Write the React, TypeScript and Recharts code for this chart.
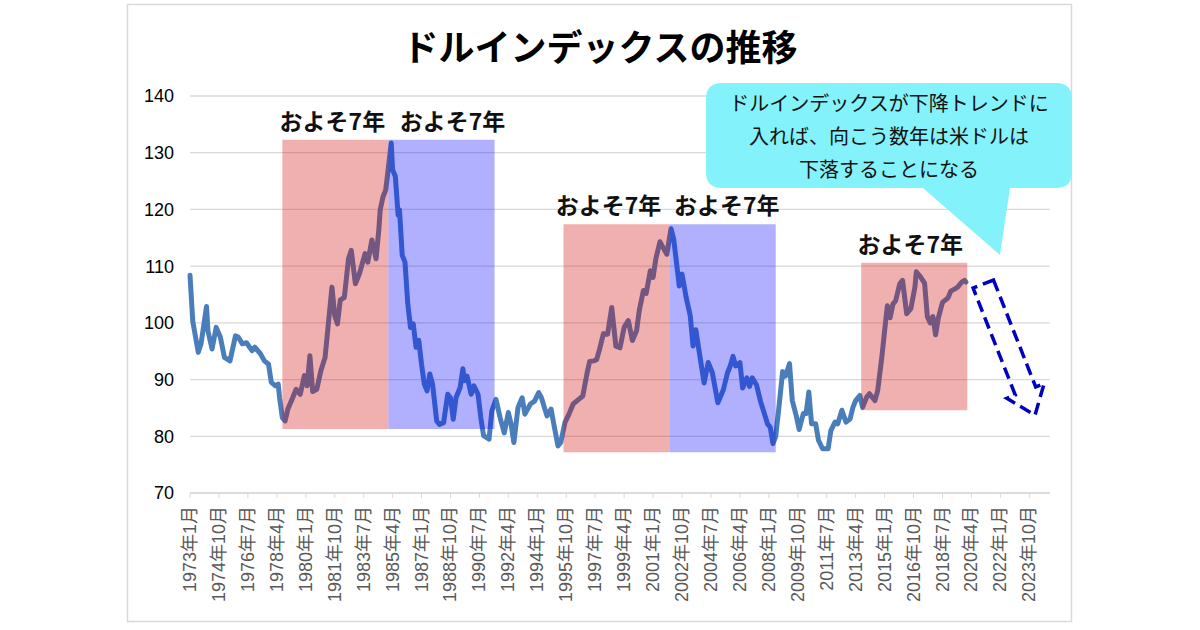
import { LineChart, Line, XAxis, YAxis, CartesianGrid, ReferenceArea } from 'recharts';

// monthly index (1973-2019)
const DATES = [
  '1973-01', '1973-03', '1973-07', '1973-09', '1974-01', '1974-02', '1974-05', '1974-08', '1974-11',
  '1975-02', '1975-06', '1975-10', '1975-12', '1976-03', '1976-06', '1976-10', '1976-12',
  '1977-04', '1977-07', '1977-10', '1977-12', '1978-03', '1978-05', '1978-06', '1978-08', '1978-10', '1978-12',
  '1979-03', '1979-06', '1979-09', '1979-12', '1980-02', '1980-04', '1980-06', '1980-09', '1980-12',
  '1981-03', '1981-08', '1981-10', '1981-12', '1982-02', '1982-05', '1982-08', '1982-10',
  '1983-01', '1983-04', '1983-08', '1983-10', '1984-01', '1984-04', '1984-06', '1984-07', '1984-09', '1984-11',
  '1985-01', '1985-03', '1985-04', '1985-06', '1985-08', '1985-09', '1985-11',
  '1986-01', '1986-03', '1986-05', '1986-07', '1986-09', '1986-11',
  '1987-01', '1987-03', '1987-05', '1987-07', '1987-09', '1987-12', '1988-02', '1988-05', '1988-08', '1988-10', '1988-12',
  '1989-02', '1989-05', '1989-07', '1989-08', '1989-10', '1990-01', '1990-03', '1990-06', '1990-08', '1990-10',
  '1991-02', '1991-04', '1991-07', '1991-10', '1992-01', '1992-04', '1992-06', '1992-08', '1992-11',
  '1993-02', '1993-04', '1993-08', '1993-11', '1994-02', '1994-04', '1994-08', '1994-11',
  '1995-01', '1995-04', '1995-06', '1995-09', '1995-12', '1996-03', '1996-07', '1996-10',
  '1997-01', '1997-03', '1997-06', '1997-08', '1997-10', '1998-01', '1998-04', '1998-07', '1998-10',
  '1999-01', '1999-04', '1999-07', '1999-10', '2000-01', '2000-03', '2000-06', '2000-08', '2000-11',
  '2001-01', '2001-03', '2001-06', '2001-08', '2001-11', '2002-02', '2002-04', '2002-06', '2002-08', '2002-10',
  '2003-01', '2003-04', '2003-06', '2003-08', '2003-11', '2004-02', '2004-05', '2004-08', '2004-12',
  '2005-04', '2005-07', '2005-09', '2005-11', '2006-01', '2006-04', '2006-06', '2006-09', '2006-11',
  '2007-01', '2007-04', '2007-07', '2007-09', '2007-12', '2008-02', '2008-04', '2008-06', '2008-08', '2008-11',
  '2009-01', '2009-04', '2009-06', '2009-09', '2009-11', '2010-02', '2010-04', '2010-06', '2010-08', '2010-11',
  '2011-01', '2011-04', '2011-08', '2011-10', '2012-01', '2012-03', '2012-06', '2012-09', '2012-12',
  '2013-02', '2013-04', '2013-07', '2013-09', '2013-12', '2014-02', '2014-06', '2014-08', '2014-11',
  '2015-01', '2015-03', '2015-05', '2015-07', '2015-09', '2015-12', '2016-02', '2016-05', '2016-08', '2016-11', '2016-12',
  '2017-03', '2017-06', '2017-08', '2017-10', '2017-12', '2018-02', '2018-04', '2018-07', '2018-11',
  '2019-01', '2019-04', '2019-06', '2019-09', '2019-11', '2019-12',
];

const VALUES = [
  108.4, 100.3, 94.8, 96.3, 102.9, 98.6, 95.4, 99.2, 97.5,
  93.9, 93.3, 97.7, 97.5, 96.3, 96.5, 95.1, 95.7,
  94.6, 93.3, 92.7, 89.5, 88.9, 89.2, 86.8, 83.3, 82.7, 84.8,
  86.5, 88.3, 87.4, 90.7, 88.9, 94.2, 87.9, 88.3, 91.6,
  93.9, 106.3, 101.3, 99.8, 104, 104.5, 111.3, 112.8,
  106.9, 108.7, 112.2, 110.7, 114.6, 111.3, 116.4, 119.9, 122.2, 123.4,
  127.5, 131.7, 127, 125.8, 119, 119.9, 111.9,
  110.7, 103.4, 99.2, 99.8, 95.7, 96.9,
  92.7, 89.2, 88, 91, 89.2, 82.7, 82.1, 82.4, 87.4, 86.8, 83,
  86.8, 88.6, 91.9, 89.8, 90.6, 87.4, 88.9, 87.4, 83.3, 80.1,
  79.5, 84.5, 86.5, 83.3, 80.6, 84.2, 82.1, 78.9, 85.1,
  86.8, 83.9, 85.7, 86.2, 87.7, 86.8, 83.6, 84.8,
  82.1, 78.3, 78.9, 82.4, 83.9, 85.7, 86.5, 87.1,
  91, 93.2, 93.3, 93.5, 95.2, 98.1, 98, 102.7, 95.9,
  95.6, 99.2, 100.4, 96.9, 98.6, 102.2, 105.7, 105.2, 109.2,
  108, 111.3, 114.3, 113.4, 112.1, 116.6, 114.7, 110.6, 106.5, 108.6,
  104.5, 101.2, 95.9, 98.8, 94.1, 89.4, 93, 91.2, 85.9,
  88.2, 91.2, 92.4, 94.1, 92.4, 93, 88.5, 90.3, 88.8,
  90.3, 89.1, 86.1, 84.6, 82.2, 81.6, 78.7, 80, 84.4, 91.4,
  90.6, 92.8, 86.3, 83.5, 81.2, 84, 84, 87.8, 82.2, 82.2,
  79.3, 77.8, 77.8, 81, 82.5, 82.2, 84.6, 82.5, 83.1,
  85.1, 86.3, 87.2, 85.1, 86.9, 87.5, 86.3, 88.1, 94,
  98.6, 103, 100.9, 103.3, 103.9, 106.9, 107.5, 101.6, 102.5, 106.3, 109,
  108.1, 107, 101.1, 100, 101.1, 97.9, 100.9, 103.6, 104.4,
  105.6, 106, 106.3, 107.2, 107.5, 107.2,
];

const TICK_LABELS = [
  '1973年1月', '1974年10月', '1976年7月', '1978年4月', '1980年1月', '1981年10月',
  '1983年7月', '1985年4月', '1987年1月', '1988年10月', '1990年7月', '1992年4月',
  '1994年1月', '1995年10月', '1997年7月', '1999年4月', '2001年1月', '2002年10月',
  '2004年7月', '2006年4月', '2008年1月', '2009年10月', '2011年7月', '2013年4月',
  '2015年1月', '2016年10月', '2018年7月', '2020年4月', '2022年1月', '2023年10月',
];

const Y_TICKS = [70, 80, 90, 100, 110, 120, 130, 140];
const AXIS_LAST = '2025-01';

// shaded periods: rising (red) / falling (blue)
const SPANS = [
  { from: '1978-08', to: '1985-01', low: 81.3, high: 132.3, trend: 'up' },
  { from: '1985-01', to: '1991-06', low: 81.3, high: 132.3, trend: 'down' },
  { from: '1995-08', to: '2002-01', low: 77.2, high: 117.4, trend: 'up' },
  { from: '2002-01', to: '2008-06', low: 77.2, high: 117.4, trend: 'down' },
  { from: '2013-08', to: '2020-01', low: 84.6, high: 110.6, trend: 'up' },
];
const SPAN_LABEL = 'およそ7年';
const LABEL_SHIFT = [-3, 11, -8, 4, -4];

const CALLOUT_LINES = ['ドルインデックスが下降トレンドに', '入れば、向こう数年は米ドルは', '下落することになる'];

const JP = "'Noto Sans CJK JP', sans-serif";
const NUM = "'Liberation Sans', 'Noto Sans CJK JP', sans-serif";

const monthIndex = (s: string) => {
  const [y, m] = s.split('-').map(Number);
  return (y - 1973) * 12 + (m - 1);
};

const tickIndex = (label: string) => {
  const mm = label.match(/(\d+)年(\d+)月/)!;
  return (Number(mm[1]) - 1973) * 12 + Number(mm[2]) - 1;
};

const data = DATES.map((d, i) => ({ m: monthIndex(d), v: VALUES[i] }));
const tickPos = TICK_LABELS.map(tickIndex);
const tickText = new Map(TICK_LABELS.map((l) => [tickIndex(l), l]));

const MonthTick = ({ x, y, payload }: any) => {
  const ty = y + 6;
  return (
    <text
      x={x}
      y={ty}
      transform={`rotate(-90, ${x}, ${ty})`}
      textAnchor="end"
      dominantBaseline="central"
      fill="#595959"
      fontSize={18}
      fontFamily={NUM}
    >
      {tickText.get(payload.value)}
    </text>
  );
};

const spanLabel = (shift: number) => (p: any) => {
  const vb = p.viewBox || {};
  return (
    <text
      x={vb.x + vb.width / 2 + shift}
      y={vb.y - 20}
      textAnchor="middle"
      dominantBaseline="central"
      fontSize={23}
      fontWeight={700}
      fontFamily={JP}
      fill="#111"
    >
      {SPAN_LABEL}
    </text>
  );
};

export default function App() {
  return (
    <div style={{ position: 'absolute', left: 0, top: 0, width: 1200, height: 630, background: '#fff' }}>
      <LineChart width={1200} height={630} data={data} margin={{ top: 96, right: 150, bottom: 17, left: 130 }}>
        <CartesianGrid vertical={false} stroke="#d9d9d9" strokeWidth={1.3} />
        <XAxis
          type="number"
          dataKey="m"
          domain={[0, monthIndex(AXIS_LAST)]}
          ticks={tickPos}
          interval={0}
          tick={<MonthTick />}
          tickSize={5}
          tickLine={{ stroke: '#d9d9d9' }}
          axisLine={{ stroke: '#d9d9d9', strokeWidth: 1.3 }}
          height={120}
        />
        <YAxis
          domain={[70, 140]}
          ticks={Y_TICKS}
          interval={0}
          width={60}
          axisLine={false}
          tickLine={false}
          tickMargin={10}
          tick={{ fill: '#000', fontSize: 18, fontFamily: NUM }}
        />
        <Line
          type="linear"
          dataKey="v"
          stroke="#4a7ebb"
          strokeWidth={5}
          strokeLinejoin="round"
          strokeLinecap="round"
          dot={false}
          isAnimationActive={false}
        />
        {SPANS.map((s, i) => (
          <ReferenceArea
            key={i}
            x1={monthIndex(s.from)}
            x2={monthIndex(s.to)}
            y1={s.low}
            y2={s.high}
            fill={s.trend === 'up' ? '#ce0000' : '#0000ff'}
            fillOpacity={0.31}
            stroke="none"
            zIndex={450}
            label={spanLabel(LABEL_SHIFT[i])}
          />
        ))}
      </LineChart>
      <svg width={1200} height={630} style={{ position: 'absolute', left: 0, top: 0, pointerEvents: 'none' }}>
        <rect x={127.5} y={4.5} width={944} height={617} fill="none" stroke="#d9d9d9" strokeWidth={1.5} />
        <text x={600} y={45} textAnchor="middle" dominantBaseline="central" fontSize={36} fontWeight={700} fontFamily={JP} fill="#000">
          ドルインデックスの推移
        </text>
        <path
          d="M 722 83 H 1056 Q 1072 83 1072 99 V 172 Q 1072 188 1056 188 H 1010 L 1000 255 L 923 188 H 722 Q 706 188 706 172 V 99 Q 706 83 722 83 Z"
          fill="#84f2fa"
        />
        {CALLOUT_LINES.map((line, i) => (
          <text key={i} x={889} y={102 + i * 33} textAnchor="middle" dominantBaseline="central" fontSize={20} fontFamily={JP} fill="#111">
            {line}
          </text>
        ))}
        <polygon
          points="993.5,280 1035.7,387 1044.1,383.7 1035,415.1 1006.9,398.3 1015.3,395 973.1,288"
          fill="none"
          stroke="#0000c0"
          strokeWidth={3.5}
          strokeDasharray="12 6"
          strokeLinejoin="miter"
        />
      </svg>
    </div>
  );
}
